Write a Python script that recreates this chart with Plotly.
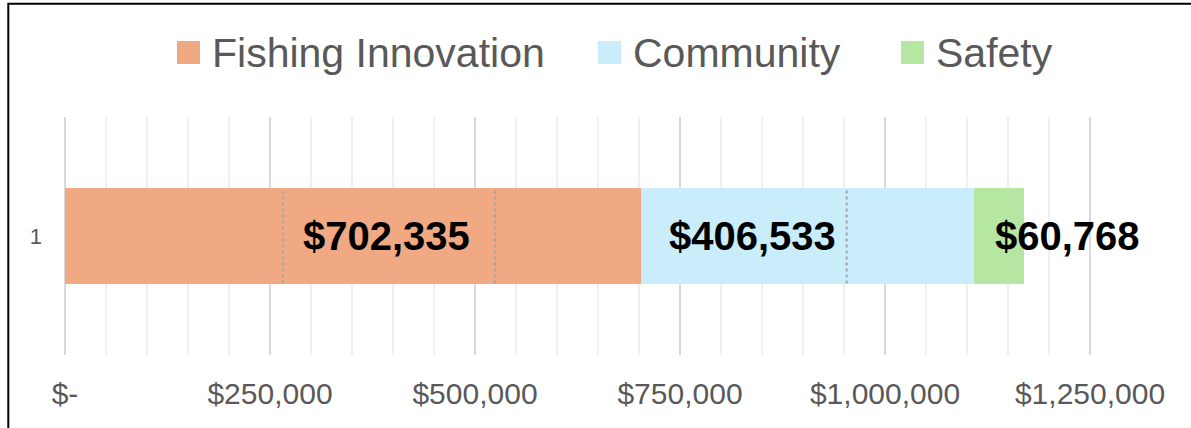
import plotly.graph_objects as go

# ---- data ----
categories = ["1"]
series_names = ["Fishing Innovation", "Community", "Safety"]
series_values = [702335, 406533, 60768]
series_colors = ["#F1A983", "#CAEDFB", "#B5E6A2"]
tick_values = [0, 250000, 500000, 750000, 1000000, 1250000]
tick_labels = ["$-", "$250,000", "$500,000", "$750,000", "$1,000,000", "$1,250,000"]
dotted_marks = [265500, 524400, 953300]  # faint dotted lines seen inside the bar

# ---- style ----
label_shift = [40500, -66600, 83000]  # manual label offsets (data units)
W, H = 1191, 428
PAD = 2                       # px of breathing room so edge gridlines are not clipped
ml, mr, mt, mb = 65 - PAD, 101 - PAD, 117, 73
X_MAX = 1250000
pad_val = X_MAX * PAD / 1025
BAR_W = 0.40
gray = "#595959"

fig = go.Figure()
base = 0
for name, val, col, sh in zip(series_names, series_values, series_colors, label_shift):
    fig.add_trace(go.Bar(
        y=categories, x=[val], name=name, orientation="h",
        marker=dict(color=col, line=dict(width=0)), width=BAR_W,
        showlegend=False, hoverinfo="skip",
    ))
    fig.add_annotation(
        x=base + val / 2 + sh, y=0, xref="x", yref="y",
        text=f"<b>${val:,}</b>", showarrow=False,
        font=dict(family="Liberation Sans, Arial", size=40, color="#000000"),
        xanchor="center", yanchor="middle",
    )
    base += val

for xv in dotted_marks:
    fig.add_shape(type="line", xref="x", yref="y", x0=xv, x1=xv,
                  y0=-BAR_W / 2, y1=BAR_W / 2,
                  line=dict(color="#A6A6A6", width=2, dash="dot"), layer="above")

# manual legend (pixel -> paper conversion)
pw, ph = W - ml - mr, H - mt - mb
def px(x):
    return (x - ml) / pw
def py(y):
    return (H - mb - y) / ph

legend_items = [(177, 212), (598, 633), (901, 936)]
for (sq_x, tx_x), name, col in zip(legend_items, series_names, series_colors):
    fig.add_shape(type="rect", xref="paper", yref="paper",
                  x0=px(sq_x), x1=px(sq_x + 23), y0=py(64), y1=py(41),
                  fillcolor=col, line=dict(width=0))
    fig.add_annotation(x=px(tx_x - 2), y=py(52.5), xref="paper", yref="paper",
                       text=name, showarrow=False, xanchor="left", yanchor="middle",
                       font=dict(family="Liberation Sans, Arial", size=41, color=gray))

# outer chart border
fig.add_shape(type="rect", xref="paper", yref="paper",
              x0=px(8.3), x1=px(W + 10), y0=py(H + 10), y1=py(3.7),
              line=dict(color="#000000", width=2), fillcolor="rgba(0,0,0,0)")

fig.update_layout(
    barmode="stack",
    width=W, height=H,
    margin=dict(l=ml, r=mr, t=mt, b=mb, pad=0),
    paper_bgcolor="white", plot_bgcolor="white",
    xaxis=dict(
        range=[-pad_val, X_MAX + pad_val], tickmode="array",
        tickvals=tick_values, ticktext=tick_labels,
        showgrid=True, gridcolor="#D9D9D9", gridwidth=2,
        minor=dict(tick0=0, dtick=50000, showgrid=True, gridcolor="#F0F0F0", gridwidth=2),
        zeroline=True, zerolinecolor="#D9D9D9", zerolinewidth=2,
        showline=False, ticks="",
        tickfont=dict(family="Liberation Sans, Arial", size=30, color=gray),
        ticklabelstandoff=18, fixedrange=True,
    ),
    yaxis=dict(
        type="category", range=[-0.5, 0.5], showgrid=False, zeroline=False,
        showline=False, ticks="",
        tickfont=dict(family="Liberation Sans, Arial", size=22, color=gray),
        ticklabelstandoff=20, fixedrange=True,
    ),
)

fig.write_html("out.html", config={"displayModeBar": False},
               post_script="document.body.style.margin='0';document.body.style.overflow='hidden';")
